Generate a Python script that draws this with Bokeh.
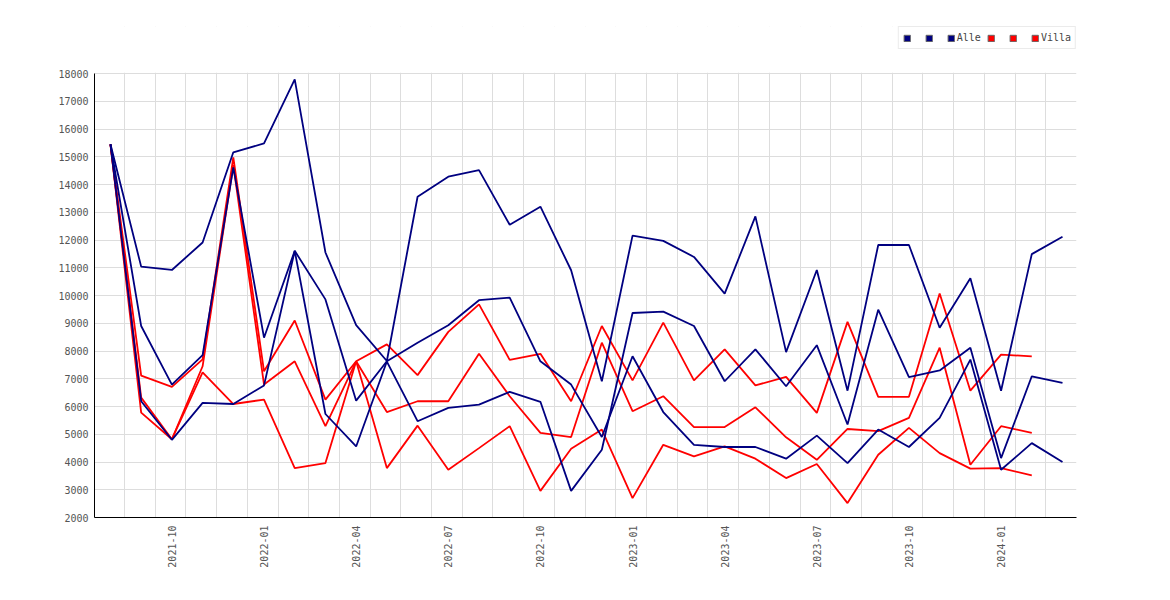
import math
from bokeh.plotting import figure
from bokeh.models import (Range1d, FixedTicker, Legend, LegendItem,
                          ColumnDataSource, BoxAnnotation)
from bokeh.embed import file_html
from bokeh.resources import INLINE

NaN = float("nan")

months = ["2021-08", "2021-09", "2021-10", "2021-11", "2021-12",
          "2022-01", "2022-02", "2022-03", "2022-04", "2022-05", "2022-06",
          "2022-07", "2022-08", "2022-09", "2022-10", "2022-11", "2022-12",
          "2023-01", "2023-02", "2023-03", "2023-04", "2023-05", "2023-06",
          "2023-07", "2023-08", "2023-09", "2023-10", "2023-11", "2023-12",
          "2024-01", "2024-02", "2024-03"]

tick_months = ["2021-10", "2022-01", "2022-04", "2022-07", "2022-10",
               "2023-01", "2023-04", "2023-07", "2023-10", "2024-01"]

alle_1 = [15450, 11040, 10920, 11910, 15160, 15480, 17790, 11550, 8930,
          7640, 13560, 14280, 14520, 12550, 13200, 10910, 6910, 12160, 11970,
          11390, 10070, 12850, 7960, 10920, 6570, 11820, 11820, 8840, 10620,
          6570, 11490, 12120]
alle_2 = [15450, 8900, 6790, 7850, 14620, 8480, 11610, 9860, 6210,
          7630, 8300, 8930, 9830, 9920, 7630, 6790, 4900, 7810, 5800,
          4620, 4540, 4540, 4120, 4950, 3960, 5170, 4540, 5590, 7690,
          3720, 4680, 4000]
alle_3 = [15450, 6190, 4800, 6130, 6090, 6760, 11610, 5730, 4560,
          7620, 5470, 5950, 6070, 6530, 6170, 2960, 4440, 9370, 9420,
          8900, 6910, 8060, 6730, 8210, 5350, 9490, 7060, 7300, 8120,
          4140, 7090, 6850]

villa_1 = [15450, 7110, 6710, 7700, 14980, 7270, 9100, 6250, 7630,
           8240, 7130, 8690, 9680, 7680, 7900, 6190, 8900, 6940, 9020,
           6940, 8060, 6760, 7070, 5770, 9050, 6350, 6350, 10070, 6570,
           7870, 7810, NaN]
villa_2 = [15450, 6320, 4820, 7450, 14700, 6790, 7630, 5290, 7630,
           5800, 6190, 6190, 7900, 6370, 5050, 4900, 8300, 5830, 6370,
           5260, 5260, 5970, 4890, 4080, 5190, 5110, 5590, 8120, 3900,
           5290, 5050, NaN]
villa_3 = [15450, 5780, 4820, 7230, 6090, 6250, 3780, 3960, 7630,
           3780, 5310, 3720, 4500, 5290, 2960, 4480, 5170, 2700, 4620,
           4200, 4560, 4120, 3420, 3930, 2520, 4260, 5230, 4320, 3760,
           3780, 3520, NaN]

NAVY = "#000080"
RED = "#ff0000"
FONT = "DejaVu Sans Mono"
Y_MIN, Y_MAX = 2000, 18000
Y_TOP = 19694  # extra headroom above the axis for the legend

x = list(range(len(months)))

p = figure(width=1160, height=580, output_backend="svg", toolbar_location=None,
           x_range=Range1d(-0.52, 31.456), y_range=Range1d(Y_MIN, Y_TOP),
           min_border_left=94, min_border_right=84, min_border_top=26,
           min_border_bottom=63)
p.outline_line_color = None
p.background_fill_color = "white"

# grids
p.xgrid.ticker = FixedTicker(ticks=[i + 0.456 for i in range(-1, 32)])
p.ygrid.ticker = FixedTicker(ticks=list(range(Y_MIN, Y_MAX + 1, 1000)))
for g in (p.xgrid, p.ygrid):
    g.grid_line_color = "#dddddd"
    g.grid_line_width = 1

# white mask over the headroom so grid lines stop at the top value
p.add_layout(BoxAnnotation(bottom=Y_MAX + 30, fill_color="white", fill_alpha=1,
                           line_color=None, level="underlay"))

# axes
p.xaxis.ticker = FixedTicker(ticks=[months.index(m) for m in tick_months])
p.xaxis.major_label_overrides = {months.index(m): m for m in tick_months}
p.xaxis.major_label_orientation = math.pi / 2
p.xaxis.major_label_standoff = 8
p.yaxis.ticker = FixedTicker(ticks=list(range(Y_MIN, Y_MAX + 1, 1000)))
p.yaxis.bounds = (Y_MIN, Y_MAX)
p.yaxis.major_label_standoff = 6
for ax in (p.xaxis, p.yaxis):
    ax.axis_line_color = "black"
    ax.axis_line_width = 1
    ax.major_tick_line_color = None
    ax.minor_tick_line_color = None
    ax.major_tick_out = 0
    ax.major_tick_in = 0
    ax.major_label_text_font = FONT
    ax.major_label_text_font_size = "10px"
    ax.major_label_text_color = "#555555"

src = ColumnDataSource(data=dict(x=x, a1=alle_1, a2=alle_2, a3=alle_3,
                                 v1=villa_1, v2=villa_2, v3=villa_3))

LW = 1.8
for col in ("v1", "v2", "v3"):
    p.line(x="x", y=col, source=src, line_color=RED, line_width=LW)
for col in ("a1", "a2", "a3"):
    p.line(x="x", y=col, source=src, line_color=NAVY, line_width=LW)

# legend swatches (off-screen quads so legend shows filled squares)
def swatch(color):
    s = ColumnDataSource(data=dict(l=[NaN], r=[NaN], t=[NaN], b=[NaN]))
    return p.quad(left="l", right="r", top="t", bottom="b", source=s,
                  fill_color=color, line_color="#666666", line_width=1)

items = []
for lab, col in ((" ", NAVY), (" ", NAVY), ("Alle", NAVY),
                 (" ", RED), (" ", RED), ("Villa", RED)):
    items.append(LegendItem(label=lab, renderers=[swatch(col)]))

legend = Legend(items=items, orientation="horizontal", location="top_right",
                glyph_width=8, glyph_height=8, label_standoff=2, spacing=6,
                label_width=6, label_height=13,
                padding=4, margin=0, border_line_color="#d8d8d8",
                border_line_width=1, background_fill_color="white",
                background_fill_alpha=1,
                label_text_font=FONT, label_text_font_size="10px",
                label_text_color="#444444")
p.add_layout(legend, "center")

open("out.html", "w").write(file_html(p, INLINE))
